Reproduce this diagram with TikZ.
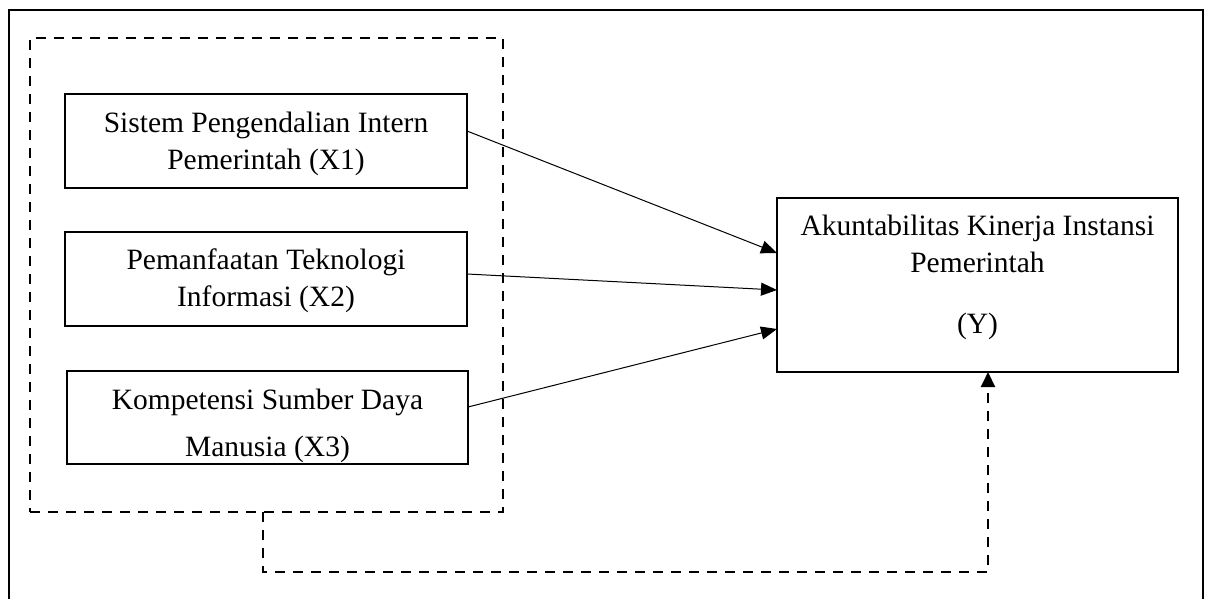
\documentclass[tikz,border=0pt]{standalone}
\usepackage{fontspec}
\setmainfont{Liberation Serif}
\usetikzlibrary{arrows.meta,calc}
\begin{document}
\begin{tikzpicture}[x=1pt,y=-1pt,
  varbox/.style={draw,line width=2pt,inner sep=0pt,outer sep=0pt,minimum width=402pt,minimum height=94pt},
  grpbox/.style={draw,line width=2pt,dash pattern=on 10pt off 8pt,inner sep=0pt,outer sep=0pt,minimum width=473pt,minimum height=474pt},
  lbl/.style={align=center,inner sep=0pt,font=\fontsize{29.5}{36.7}\selectfont},
  link/.style={line width=1pt,-{Triangle[length=16pt,width=13pt]}},
  dlink/.style={line width=2pt,dash pattern=on 10pt off 8pt,-{Triangle[length=15pt,width=14pt]}}]
\useasboundingbox (0,0) rectangle (1209,598);
\clip (0,0) rectangle (1209,598);
% outer frame (bottom edge lies outside the picture)
\draw[line width=2pt] (9,620) -- (9,10) -- (1203,10) -- (1203,620);
% dashed group
\node[grpbox] (grp) at (266.5,275) {};
% variable boxes
\node[varbox] (b1) at (266,141) {};
\node[varbox] (b2) at (266,279) {};
\node[varbox,minimum width=401pt,minimum height=93pt] (b3) at (267.5,417.5) {};
\node[varbox,minimum width=401pt,minimum height=174pt] (by) at (977.5,285) {};
% texts
\node[lbl] (t1) at ([yshift=-3pt]b1.center) {Sistem Pengendalian Intern\\Pemerintah (X1)};
\node[lbl] (t2) at ([yshift=-2pt]b2.center) {Pemanfaatan Teknologi\\Informasi (X2)};
\node[lbl,font=\fontsize{29.5}{47}\selectfont] (t3) at ([yshift=-8.5pt]b3.center) {Kompetensi Sumber Daya\\Manusia (X3)};
\node[lbl] (ty) at ([yshift=7.5pt]by.center) {Akuntabilitas Kinerja Instansi\\Pemerintah\\[24pt](Y)};
% arrows
\draw[link] ([yshift=10pt]b1.east) -- ([yshift=32pt]by.west);
\draw[link] ([yshift=5pt]b2.east) -- ([yshift=-5pt]by.west);
\draw[link] ([yshift=10.5pt]b3.east) -- ([yshift=-44pt]by.west);
% dashed connector
\draw[dlink] ([xshift=-3.5pt]grp.south) -- ++(0,60) -| ([xshift=10.5pt]by.south);
\end{tikzpicture}
\end{document}
